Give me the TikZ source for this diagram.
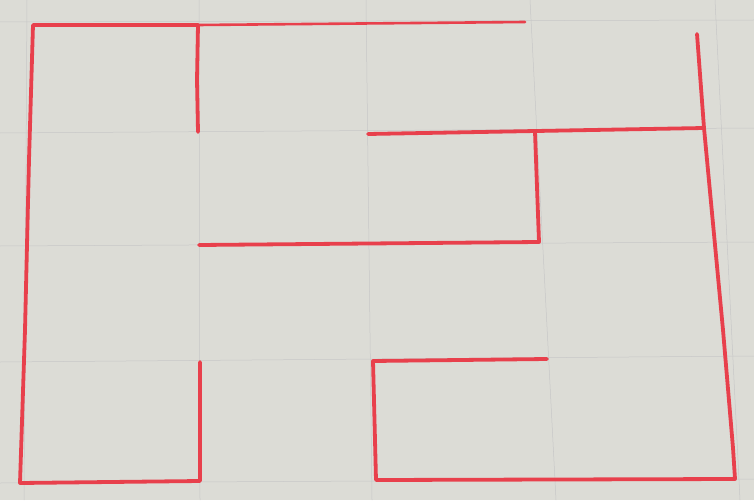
\documentclass[tikz,border=0pt]{standalone}
\begin{document}
\begin{tikzpicture}[x=1pt,y=-1pt]
\definecolor{paper}{RGB}{220,220,214}
\definecolor{redpen}{RGB}{232,64,76}
\tikzset{wall/.style={draw=redpen, line width=3.8pt, line cap=round, line join=round},
  thinwall/.style={draw=redpen, line width=2.6pt, line cap=round},
  gridline/.style={draw=black!22, line width=0.5pt}}
\useasboundingbox (0,0) rectangle (754,500);
\fill[paper] (0,0) rectangle (754,500);
% faint grid lines
\draw[gridline] (27,0) -- (24,500);
\draw[gridline] (199,0) -- (200,500);
\draw[gridline] (366,0) -- (372,500);
\draw[gridline] (530,0) -- (556,500);
\draw[gridline] (715,0) -- (740,500);
\draw[gridline] (0,22) -- (754,20);
\draw[gridline] (0,133) -- (754,128);
\draw[gridline] (0,246) -- (754,242);
\draw[gridline] (0,362) -- (754,356);
\draw[gridline] (0,483) -- (754,479);
% red walls
\coordinate (tl) at (33,25);
\coordinate (tm) at (198,25);
\coordinate (tr) at (525,22);
\coordinate (bl) at (20,483);
\coordinate (blr) at (200,481);
\coordinate (blt) at (200,362);
\draw[wall] (tm) -- (tl) -- (29,160) -- (25,330) -- (bl) -- (blr) -- (blt);
\draw[thinwall] (tm) -- (tr);
\draw[wall] (tm) -- (197,80) -- (198,132);
\draw[wall] (199,245) -- (539,242) -- (535,132);
\draw[wall] (368,134) -- (704,128);
\draw[wall] (697,34) -- (704,128) -- (723,330) -- (733,448) -- (735,479) -- (376,480) -- (373,361) -- (547,359);
\end{tikzpicture}
\end{document}
